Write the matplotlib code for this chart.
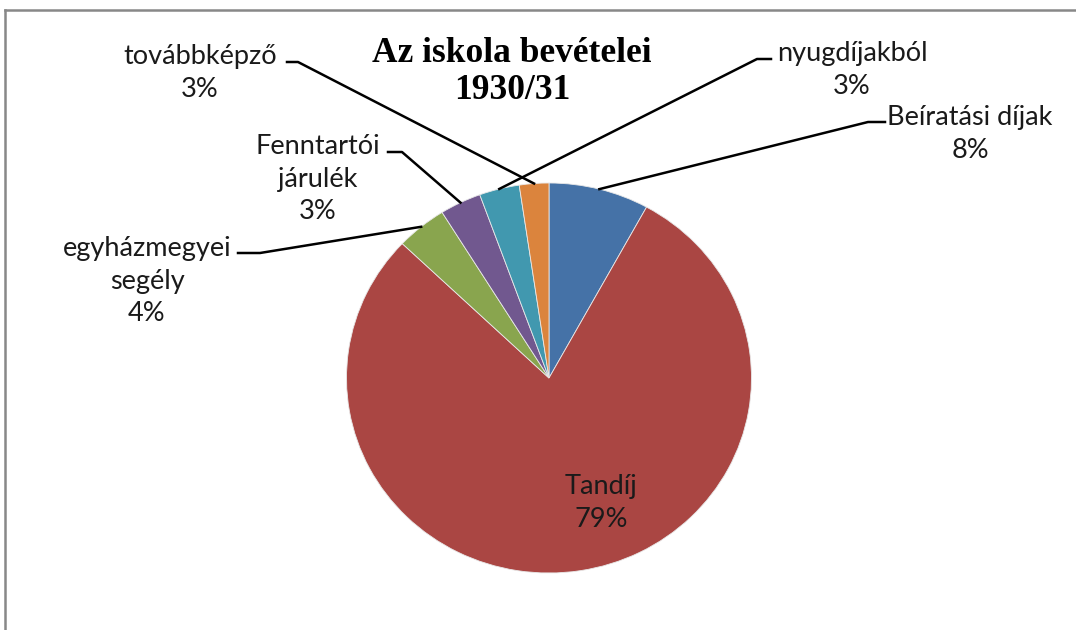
import numpy as np
import matplotlib.pyplot as plt
from matplotlib.lines import Line2D

# adatok (szeletek az óramutató járása szerint, felülről indulva)
labels = ['Beíratási díjak', 'Tandíj', 'egyházmegyei\nsegély', 'Fenntartói\njárulék',
          'nyugdíjakból', 'továbbképző']
values = [8.0, 79.1, 4.05, 3.3, 3.2, 2.35]
pct_labels = ['8%', '79%', '4%', '3%', '3%', '3%']
colors = ['#4572A7', '#AA4643', '#89A54E', '#71588F', '#4198AF', '#DB843D']

W, H = 1076, 630
fig = plt.figure(figsize=(W / 100, H / 100), dpi=100)
plt.rcParams['font.family'] = ['Lato', 'DejaVu Sans']

# pie axes (kicsit ellipszis alakú, mint az eredetin)
cx, cy, rx, ry = 549, 378, 202.5, 195
ax = fig.add_axes([(cx - rx) / W, (H - cy - ry) / H, 2 * rx / W, 2 * ry / H])
wedges, _ = ax.pie(values, colors=colors, startangle=90, counterclock=False,
                   wedgeprops=dict(linewidth=0.6, edgecolor='#e8e8e8'))
ax.set_aspect('auto')
ax.set_xlim(-1, 1)
ax.set_ylim(-1, 1)
ax.axis('off')


def px2d(px, py):
    # pixel -> adat koordináta a pie tengelyen
    return (px - cx) / rx, (cy - py) / ry


# címkék helye (pixel) és a vezetővonal könyökpontjai
label_pos = [(970, 134), (601, 503), (147, 281), (318, 179), (852, 70), (200, 73)]
elbow = [((885, 122), (868, 122)), None, ((238, 253), (260, 253)),
         ((388, 152), (402, 152)), ((771, 59), (757, 59)), ((287, 62), (298, 62))]

for w, lab, pct, pos, el in zip(wedges, labels, pct_labels, label_pos, elbow):
    tx, ty = px2d(*pos)
    ax.text(tx, ty, lab + '\n' + pct, ha='center', va='center', fontsize=19.5,
            color='#1a1a1a', linespacing=1.38, clip_on=False)
    if el is None:
        continue
    ang = np.deg2rad((w.theta1 + w.theta2) / 2)
    ex, ey = np.cos(ang), np.sin(ang)
    (x0, y0), (x1, y1) = px2d(*el[0]), px2d(*el[1])
    ax.plot([x0, x1, ex], [y0, y1, ey], color='black', lw=1.8,
            clip_on=False, solid_joinstyle='round')

fig.text(512 / W, 1 - 72 / H, 'Az iskola bevételei\n1930/31', ha='center', va='center',
         fontsize=25.5, fontweight='bold', family='Liberation Serif', linespacing=1.15)

# keret (csak a felső és bal oldal látszik)
fig.add_artist(Line2D([5 / W, 1], [1 - 10 / H, 1 - 10 / H], color='#888888', lw=1.8))
fig.add_artist(Line2D([5 / W, 5 / W], [0, 1 - 10 / H], color='#888888', lw=1.8))

fig.savefig('out.png', dpi=100)
